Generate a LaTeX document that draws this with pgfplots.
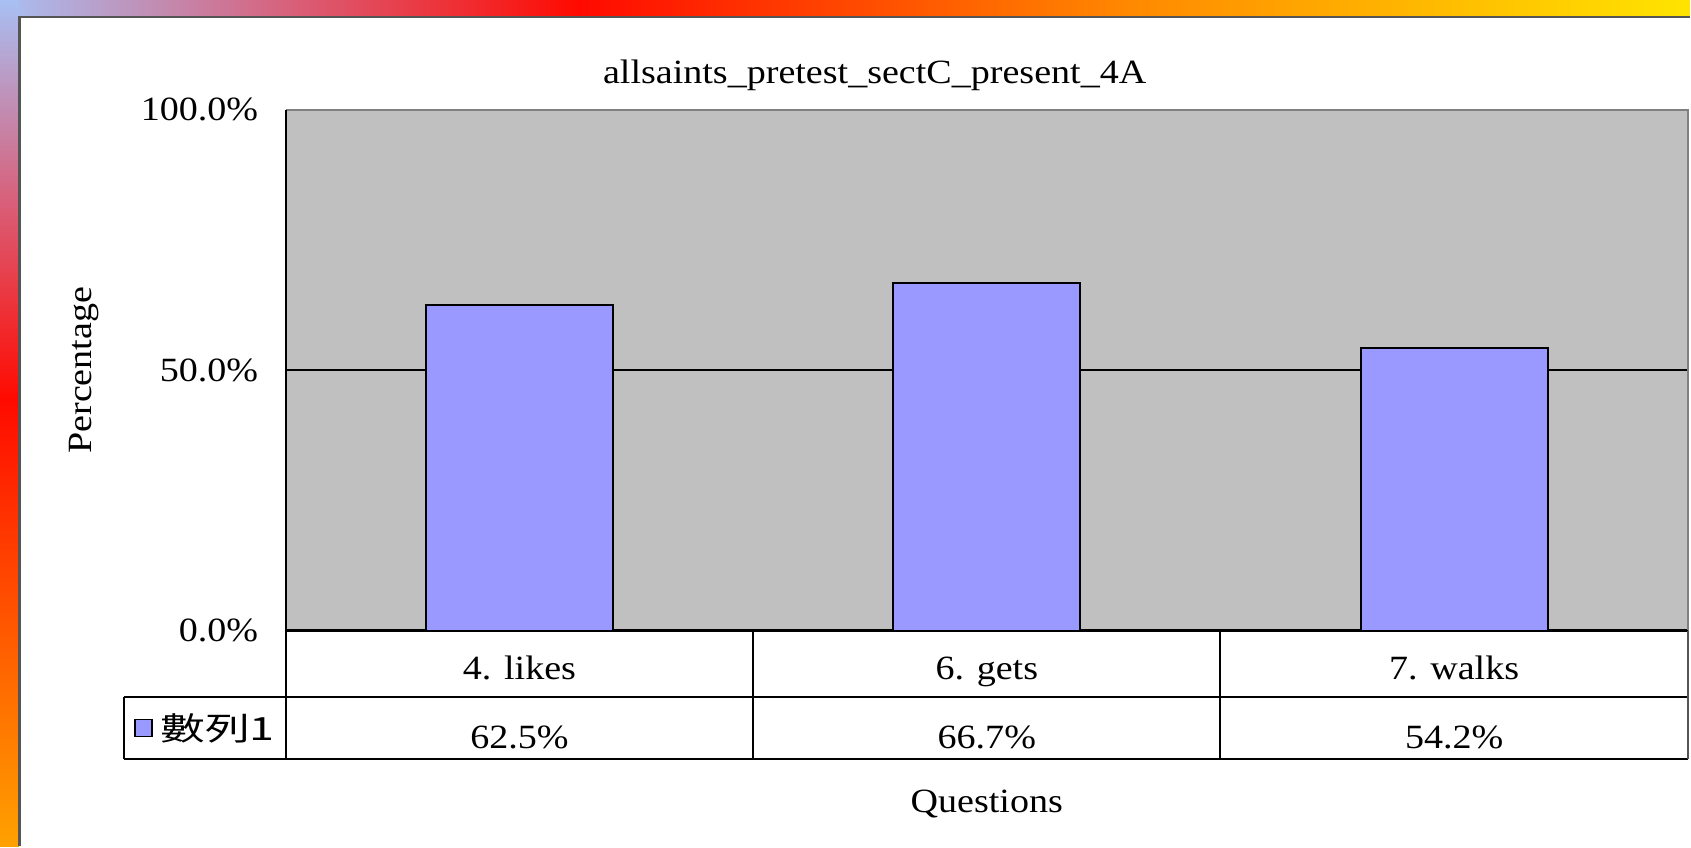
\documentclass[border=0pt]{standalone}
\usepackage{pgfplots}
\pgfplotsset{compat=1.18}
\usepackage{fontspec}
\setmainfont{Liberation Serif}[FakeStretch=1.12]
\newfontfamily\cjk{Noto Sans CJK TC}[FakeStretch=1.4]
\definecolor{plotgray}{HTML}{C0C0C0}
\definecolor{barblue}{HTML}{9999FF}
\definecolor{lblue}{HTML}{A8C0F4}
\definecolor{pinkred}{HTML}{D8607A}
\definecolor{rred}{HTML}{FF0A00}
\definecolor{oorange}{HTML}{FF8A00}
\definecolor{yyellow}{HTML}{FFE400}
\definecolor{framegray}{HTML}{555555}
\newcommand\cf{\fontsize{17}{20.4}\selectfont}
\pgfplotstableread{
x y
0 62.5
1 66.7
2 54.2
}\datatab
\begin{document}
\cf
\begin{tikzpicture}[x=0.5pt,y=0.5pt]
% page background
\fill[white] (0,0) rectangle (1691,847);
% top gradient strip
\shade[left color=lblue, right color=rred, middle color=pinkred] (0,830) rectangle (580,847);
\shade[left color=rred, right color=yyellow, middle color=oorange] (579,830) rectangle (1691,847);
% left gradient strip
\shade[top color=lblue, bottom color=rred, middle color=pinkred] (0,447) rectangle (19,847);
\shade[top color=rred, bottom color=oorange!80!yellow] (0,0) rectangle (19,448);
\draw[framegray, line width=1.2pt] (19.5,0) -- (19.5,830) -- (1691,830);

\begin{axis}[
  at={(143pt,108pt)}, anchor=south west,
  scale only axis, width=701.5pt, height=260.5pt,
  xmin=-0.5, xmax=2.5, ymin=0, ymax=100,
  clip=false,
  axis background/.style={fill=plotgray},
  axis line style={draw=none},
  major tick length=0pt,
  xtick={0,1,2},
  xticklabels={4. likes, 6. gets, 7. walks},
  xticklabel style={font=\cf, anchor=base, yshift=-24.5pt},
  ytick={0,50,100},
  yticklabel={\pgfmathprintnumber[fixed,fixed zerofill,precision=1,assume math mode=true]{\tick}\%},
  yticklabel style={font=\cf, xshift=-8pt},
  ymajorgrids, grid style={black, line width=1.1pt},
  title={allsaints\_pretest\_sectC\_present\_4A},
  title style={font=\cf, at={(rel axis cs:0.42,1.044)}, anchor=center},
  xlabel={Questions},
  every axis x label/.style={at={(rel axis cs:0.5,0)}, yshift=-87pt, anchor=center, font=\cf},
  ylabel={Percentage},
  every axis y label/.style={at={(rel axis cs:0,0.5)}, xshift=-101pt, rotate=90, anchor=center, font=\cf},
]
\addplot[ybar, bar width=0.4, fill=barblue, draw=black, line width=1pt] table[x=x,y=y]{\datatab};
% borders of plot area
\draw[gray, line width=1.2pt] (rel axis cs:0,1) -- (rel axis cs:1,1) -- (rel axis cs:1,0);
\draw[black, line width=1pt] (rel axis cs:0,1) -- (rel axis cs:0,0) -- (rel axis cs:1,0);
% data table values (baseline at row 2)
\node[font=\cf, anchor=base] at (axis cs:0,-22.6) {62.5\%};
\node[font=\cf, anchor=base] at (axis cs:1,-22.6) {66.7\%};
\node[font=\cf, anchor=base] at (axis cs:2,-22.6) {54.2\%};
\end{axis}

% data table grid (pixel coordinates, y = 847 - ypx)
\draw[black, line width=1pt] (286,216) -- (286,87);
\draw[black, line width=1pt] (124,150) -- (1689,150);
\draw[black, line width=1pt] (124,87) -- (1689,87);
\draw[black, line width=1pt] (124,150) -- (124,87);
\draw[black, line width=1pt] (754,216) -- (754,87);
\draw[black, line width=1pt] (1221,216) -- (1221,87);
\draw[framegray, line width=1pt] (1689,216) -- (1689,87);
% legend key
\draw[black, line width=0.8pt, fill=barblue] (135,110) rectangle (152,127);
\node[anchor=west, inner sep=0pt] at (160,118.5) {\cjk\fontsize{16}{19}\selectfont 數列1};
\end{tikzpicture}
\end{document}
